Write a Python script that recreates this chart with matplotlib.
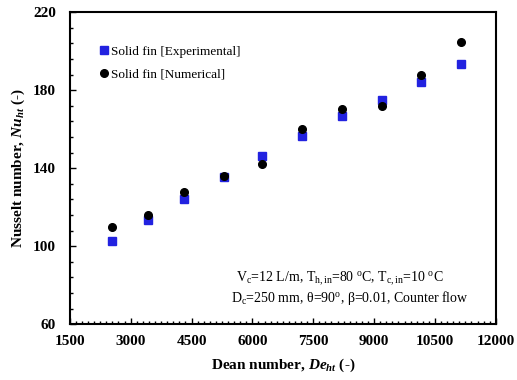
import numpy as np
import matplotlib.pyplot as plt
from matplotlib.ticker import MultipleLocator, AutoMinorLocator

plt.rcParams['font.family'] = 'Liberation Serif'
plt.rcParams['mathtext.fontset'] = 'custom'
plt.rcParams['mathtext.rm'] = 'Liberation Serif'
plt.rcParams['mathtext.it'] = 'Liberation Serif:italic'
plt.rcParams['mathtext.bf'] = 'Liberation Serif:bold'
plt.rcParams['mathtext.bfit'] = 'Liberation Serif:bold:italic'

# data
dean = [2540, 3430, 4320, 5290, 6230, 7230, 8210, 9200, 10150, 11130]
nu_exp = [102.6, 113.3, 124.0, 135.4, 146.0, 156.4, 166.5, 175.2, 184.3, 193.3]
nu_num = [109.9, 116.2, 128.0, 135.9, 142.1, 160.0, 170.1, 171.8, 188.0, 204.8]
yticks = [60, 100, 140, 180, 220]

fig, ax = plt.subplots(figsize=(5.17, 3.80), dpi=100)
fig.subplots_adjust(left=0.135, right=0.959, top=0.968, bottom=0.147)

ax.plot(dean, nu_exp, 's', color='#2222e0', markersize=5.5, label='Solid fin [Experimental]')
ax.plot(dean, nu_num, 'o', color='black', markersize=5.5, label='Solid fin [Numerical]')

ax.set_xlim(1500, 12000)
ax.set_ylim(60, 220)
ax.xaxis.set_major_locator(MultipleLocator(1500))
ax.xaxis.set_minor_locator(AutoMinorLocator(10))
ax.set_yticks(yticks)
ax.yaxis.set_minor_locator(AutoMinorLocator(5))
ax.tick_params(which='both', direction='in', width=1)
ax.tick_params(which='major', length=4, labelsize=11)
ax.tick_params(which='minor', length=2.5)
ax.tick_params(axis='y', which='major', pad=10)
ax.tick_params(axis='x', which='major', pad=8)
for lab in ax.get_xticklabels() + ax.get_yticklabels():
    lab.set_fontweight('bold')
for s in ax.spines.values():
    s.set_linewidth(1.5)

ax.set_xlabel(r'Dean number, $\mathbfit{De}_{\mathbfit{ht}}$ (-)', fontsize=11, fontweight='bold', labelpad=6)
ax.set_ylabel(r'Nusselt number, $\mathbfit{Nu}_{\mathbfit{ht}}$ (-)', fontsize=11, fontweight='bold', labelpad=4)

ax.legend(loc='upper left', frameon=False, fontsize=9.5, handletextpad=0.1,
          handlelength=0.8, bbox_to_anchor=(0.04, 0.93), labelspacing=0.8)

ax.text(0.39, 0.115, r'V$_\mathrm{c}$=12 L/m, T$_\mathrm{h,in}$=80 $^\mathrm{o}$C, T$_\mathrm{c,in}$=10 $^\mathrm{o}$C',
        transform=ax.transAxes, fontsize=10, ha='left', va='bottom')
ax.text(0.378, 0.055, r'D$_\mathrm{c}$=250 mm, θ=90$^\mathrm{o}$, β=0.01, Counter flow',
        transform=ax.transAxes, fontsize=10, ha='left', va='bottom')

fig.savefig('out.png', dpi=100)
